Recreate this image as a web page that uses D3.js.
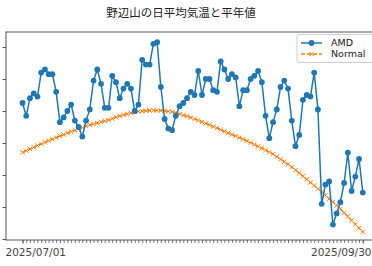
<!DOCTYPE html>
<html><head><meta charset="utf-8">
<script src="https://cdn.jsdelivr.net/npm/d3@7"></script>
<style>html,body{margin:0;padding:0;background:#fff;overflow:hidden}</style>
</head><body>
<svg id="c" width="372" height="266"></svg>
<script>
const titleText = "野辺山の日平均気温と平年値";
const startDate = "2025-07-01";
const endDate = "2025-09-30";
const xTickLabels = ["2025/07/01", "2025/09/30"];
const yTicks = [12, 14, 16, 18, 20, 22, 24];
const seriesNames = ["AMD", "Normal"];
const amd = [20.5,19.7,20.8,21.1,20.9,22.4,22.6,22.3,22.3,21.2,
  19.3,19.6,20.0,20.4,19.4,19.0,18.4,19.4,20.1,21.9,
  22.6,21.7,20.2,20.2,22.2,21.8,20.8,21.4,21.7,21.4,
  20.0,20.4,23.2,22.9,22.9,24.2,24.3,21.5,19.5,18.9,
  18.8,19.7,20.3,20.5,20.8,21.2,21.0,22.5,21.0,22.0,
  22.0,21.3,21.2,23.1,22.6,22.0,22.3,22.1,20.3,21.3,
  21.3,22.0,22.2,22.5,21.8,19.7,18.3,19.3,20.1,21.5,
  21.9,21.4,19.4,17.8,18.5,20.7,21.0,20.9,22.4,20.1,
  14.2,15.4,15.6,12.9,13.6,14.3,15.5,17.4,15.0,15.9,
  17.0,14.9];
const normal = [17.41,17.52,17.63,17.73,17.84,17.94,18.04,18.14,18.24,18.34,
  18.44,18.53,18.62,18.71,18.80,18.88,18.96,19.05,19.13,19.19,
  19.25,19.32,19.38,19.44,19.52,19.61,19.69,19.75,19.82,19.88,
  19.94,19.97,19.99,20.01,20.03,20.04,20.04,20.03,20.01,19.98,
  19.94,19.88,19.81,19.74,19.67,19.59,19.50,19.41,19.32,19.22,
  19.13,19.03,18.93,18.83,18.73,18.63,18.53,18.43,18.33,18.23,
  18.13,18.02,17.90,17.79,17.67,17.55,17.43,17.31,17.15,16.99,
  16.83,16.67,16.50,16.31,16.12,15.92,15.73,15.53,15.34,15.14,
  14.94,14.73,14.52,14.31,14.10,13.88,13.64,13.40,13.16,12.92,
  12.68,12.44];

(function () {
const parse = d3.timeParse("%Y-%m-%d");
const d0 = parse(startDate), d1 = parse(endDate);
const dates = d3.timeDay.range(d0, d3.timeDay.offset(d1, 1));
const amdData = amd.map((v, i) => ({d: dates[i], v}));
const normData = normal.map((v, i) => ({d: dates[i], v}));

const svg = d3.select("#c");
const mLeft = 6, mTop = 32, mBottom = 240, mRight = 384;
const x = d3.scaleTime().domain([d0, d1]).range([22.5, 362.8]);
const y = d3.scaleLinear().domain([11.9375, 24.9375]).range([mBottom, mTop]);

const blue = "#1f77b4", orange = "#ff7f0e", spine = "#555";

svg.append("text").attr("x", 181).attr("y", 14).attr("text-anchor", "middle")
  .attr("dominant-baseline", "middle")
  .style("font-family", "'Noto Sans CJK JP', sans-serif").style("font-size", "11.5px")
  .style("fill", "#222").text(titleText);

svg.append("rect").attr("x", mLeft).attr("y", mTop).attr("width", mRight - mLeft).attr("height", mBottom - mTop)
  .attr("fill", "none").attr("stroke", spine).attr("stroke-width", 1);

const ya = svg.append("g").attr("transform", `translate(${mLeft},0)`)
  .call(d3.axisLeft(y).tickValues(yTicks).tickFormat("").tickSize(3.5));
ya.select(".domain").remove();
ya.selectAll("line").attr("stroke", spine);

const xm = svg.append("g").attr("transform", `translate(0,${mBottom})`)
  .call(d3.axisBottom(x).tickValues(dates).tickFormat("").tickSize(3));
xm.select(".domain").remove();
xm.selectAll("line").attr("stroke", spine).attr("stroke-width", 0.8);

const xa = svg.append("g").attr("transform", `translate(0,${mBottom})`)
  .call(d3.axisBottom(x).tickValues([d0, d1]).tickFormat((d, i) => xTickLabels[i]).tickSize(3.5));
xa.select(".domain").remove();
xa.selectAll("line").attr("stroke", spine);
xa.selectAll("text").style("font-family", "'DejaVu Sans', sans-serif").style("font-size", "10.5px")
  .style("fill", "#444").attr("y", 9)
  .attr("text-anchor", (d, i) => i === 0 ? "start" : "end")
  .attr("x", (d, i) => i === 0 ? 5 - x(d0) : 371 - x(d1));

const line = d3.line().x(d => x(d.d)).y(d => y(d.v));
svg.append("path").datum(normData).attr("d", line).attr("fill", "none")
  .attr("stroke", orange).attr("stroke-width", 1.3).attr("stroke-dasharray", "4,2");
const xs = 2.2;
svg.append("g").selectAll("path").data(normData).join("path")
  .attr("d", d => { const cx = x(d.d), cy = y(d.v);
    return `M${cx - xs},${cy - xs}L${cx + xs},${cy + xs}M${cx - xs},${cy + xs}L${cx + xs},${cy - xs}`; })
  .attr("stroke", orange).attr("stroke-width", 1);

svg.append("path").datum(amdData).attr("d", line).attr("fill", "none")
  .attr("stroke", blue).attr("stroke-width", 1.5);
svg.append("g").selectAll("circle").data(amdData).join("circle")
  .attr("cx", d => x(d.d)).attr("cy", d => y(d.v)).attr("r", 2.9).attr("fill", blue);

const lg = svg.append("g");
lg.append("rect").attr("x", 297).attr("y", 34.5).attr("width", 90).attr("height", 28).attr("rx", 2)
  .attr("fill", "#fff").attr("fill-opacity", 0.85).attr("stroke", "#ccc");
lg.append("line").attr("x1", 301).attr("x2", 322).attr("y1", 43).attr("y2", 43)
  .attr("stroke", blue).attr("stroke-width", 1.5);
lg.append("circle").attr("cx", 311.5).attr("cy", 43).attr("r", 2.9).attr("fill", blue);
lg.append("line").attr("x1", 301).attr("x2", 322).attr("y1", 54).attr("y2", 54)
  .attr("stroke", orange).attr("stroke-width", 1.3).attr("stroke-dasharray", "4,2");
lg.append("path").attr("d", `M${311.5 - xs},${54 - xs}L${311.5 + xs},${54 + xs}M${311.5 - xs},${54 + xs}L${311.5 + xs},${54 - xs}`)
  .attr("stroke", orange).attr("stroke-width", 1);
lg.selectAll("text.lab").data(seriesNames).join("text").attr("class", "lab")
  .attr("x", 331).attr("y", (d, i) => 43 + i * 11).attr("dominant-baseline", "middle")
  .style("font-family", "'DejaVu Sans', sans-serif").style("font-size", "9.5px").style("fill", "#222")
  .text(d => d);
})();
</script>
</body></html>
